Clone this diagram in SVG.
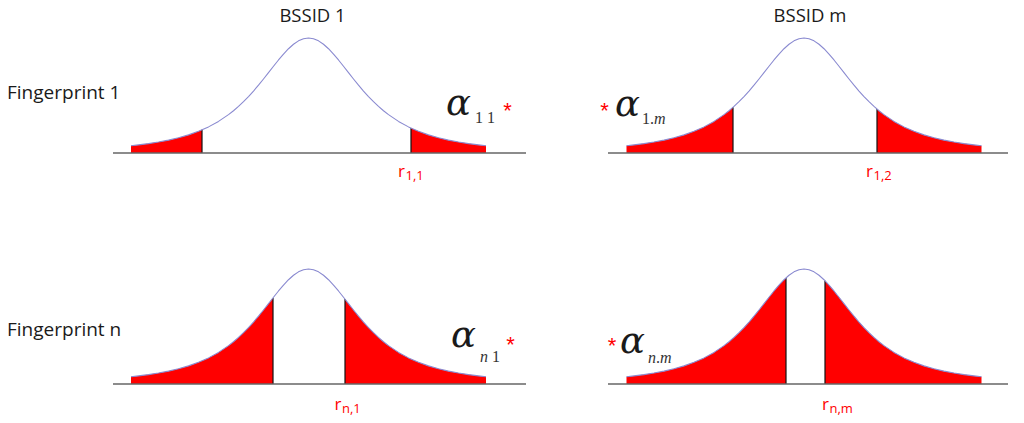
<svg xmlns="http://www.w3.org/2000/svg" xmlns:xlink="http://www.w3.org/1999/xlink" width="1024" height="423" viewBox="0 0 1024 423">
<style>
.curve{fill:none;stroke:#8a8ad0;stroke-width:1.1;stroke-linejoin:round}
.red{fill:#ff0000;stroke:none}
.edge{stroke:#111;stroke-width:1.2}
.axis{stroke:#666;stroke-width:1.6}
.hdr{font-family:"Open Sans","Liberation Sans",sans-serif;font-size:18.5px;fill:#1a1a1a}
.fp{font-family:"Open Sans","Liberation Sans",sans-serif;font-size:19px;fill:#1a1a1a}
.r{font-family:"Open Sans","Liberation Sans",sans-serif;font-size:17px;fill:#ff0000}
.rs{font-size:13px}
.al{font-family:"DejaVu Serif","Liberation Serif",serif;font-style:italic;font-size:37px;fill:#1a1a1a}
.sub{font-family:"Liberation Serif","Times New Roman",serif;font-size:16px;fill:#333}
.it{font-style:italic}
.ast{font-family:"Liberation Sans",Arial,sans-serif;font-size:22px;fill:#ff0000;text-anchor:middle}
</style>
<defs>
<path id="bell" d="M-177.5,-7.25 L-170,-8.08 L-160,-9.38 L-150,-10.95 L-140,-12.87 L-130,-15.22 L-120,-18.11 L-110,-21.69 L-100,-26.12 L-90,-31.6 L-80,-38.35 L-75,-42.27 L-70,-46.59 L-65,-51.31 L-60,-56.44 L-55,-61.96 L-50,-67.84 L-45,-74.01 L-40,-80.36 L-35,-86.77 L-30,-93.03 L-25,-98.95 L-20,-104.27 L-15,-108.75 L-10,-112.15 L-5,-114.28 L0,-115 L5,-114.28 L10,-112.15 L15,-108.75 L20,-104.27 L25,-98.95 L30,-93.03 L35,-86.77 L40,-80.36 L45,-74.01 L50,-67.84 L55,-61.96 L60,-56.44 L65,-51.31 L70,-46.59 L75,-42.27 L80,-38.35 L90,-31.6 L100,-26.12 L110,-21.69 L120,-18.11 L130,-15.22 L140,-12.87 L150,-10.95 L160,-9.38 L170,-8.08 L177.5,-7.25"/>
<path id="area" d="M-177.5,0 L-177.5,-7.25 L-170,-8.08 L-160,-9.38 L-150,-10.95 L-140,-12.87 L-130,-15.22 L-120,-18.11 L-110,-21.69 L-100,-26.12 L-90,-31.6 L-80,-38.35 L-75,-42.27 L-70,-46.59 L-65,-51.31 L-60,-56.44 L-55,-61.96 L-50,-67.84 L-45,-74.01 L-40,-80.36 L-35,-86.77 L-30,-93.03 L-25,-98.95 L-20,-104.27 L-15,-108.75 L-10,-112.15 L-5,-114.28 L0,-115 L5,-114.28 L10,-112.15 L15,-108.75 L20,-104.27 L25,-98.95 L30,-93.03 L35,-86.77 L40,-80.36 L45,-74.01 L50,-67.84 L55,-61.96 L60,-56.44 L65,-51.31 L70,-46.59 L75,-42.27 L80,-38.35 L90,-31.6 L100,-26.12 L110,-21.69 L120,-18.11 L130,-15.22 L140,-12.87 L150,-10.95 L160,-9.38 L170,-8.08 L177.5,-7.25 L177.5,0 Z"/>
<clipPath id="c11"><rect x="-179" y="-200" width="72.5" height="210"/><rect x="102.5" y="-200" width="76.5" height="210"/></clipPath>
<clipPath id="c1m"><rect x="-179" y="-200" width="108" height="210"/><rect x="73" y="-200" width="106" height="210"/></clipPath>
<clipPath id="cn1"><rect x="-179" y="-200" width="143.5" height="210"/><rect x="36.5" y="-200" width="142.5" height="210"/></clipPath>
<clipPath id="cnm"><rect x="-179" y="-200" width="161" height="210"/><rect x="21" y="-200" width="158" height="210"/></clipPath>
</defs>

<g id="headers">
<text class="hdr" x="312.5" y="22" text-anchor="middle">BSSID 1</text>
<text class="hdr" x="810" y="22" text-anchor="middle">BSSID m</text>
<text class="fp" x="7" y="99">Fingerprint 1</text>
<text class="fp" x="7" y="336">Fingerprint n</text>
</g>

<g id="panel-1-1">
<g transform="translate(308.5,153)">
<use xlink:href="#area" class="red" clip-path="url(#c11)"/>
<line class="edge" x1="-106.5" y1="0" x2="-106.5" y2="-23.2"/>
<line class="edge" x1="102.5" y1="0" x2="102.5" y2="-25"/>
<use xlink:href="#bell" class="curve"/>
<line class="axis" x1="-195.5" y1="0" x2="217.5" y2="0"/>
</g>
<text class="r" x="398" y="177">r<tspan class="rs" x="405.5" y="180">1,1</tspan></text>
<text class="al" x="446" y="115">α</text>
<text class="sub" x="475" y="123">1 1</text>
<text class="ast" x="507.5" y="117.5">*</text>
</g>

<g id="panel-1-m">
<g transform="translate(804,153)">
<use xlink:href="#area" class="red" clip-path="url(#c1m)"/>
<line class="edge" x1="-71" y1="0" x2="-71" y2="-45.8"/>
<line class="edge" x1="73" y1="0" x2="73" y2="-44.1"/>
<use xlink:href="#bell" class="curve"/>
<line class="axis" x1="-196" y1="0" x2="204" y2="0"/>
</g>
<text class="r" x="866" y="177">r<tspan class="rs" x="873.5" y="180">1,2</tspan></text>
<text class="ast" x="604.5" y="117.5">*</text>
<text class="al" x="615" y="116">α</text>
<text class="sub" x="642" y="124">1.<tspan class="it">m</tspan></text>
</g>

<g id="panel-n-1">
<g transform="translate(308.5,384)">
<use xlink:href="#area" class="red" clip-path="url(#cn1)"/>
<line class="edge" x1="-35.5" y1="0" x2="-35.5" y2="-86.1"/>
<line class="edge" x1="36.5" y1="0" x2="36.5" y2="-84.9"/>
<use xlink:href="#bell" class="curve"/>
<line class="axis" x1="-195.5" y1="0" x2="217.5" y2="0"/>
</g>
<text class="r" x="334.5" y="410">r<tspan class="rs" x="342" y="412.5">n,1</tspan></text>
<text class="al" x="451" y="347">α</text>
<text class="sub" x="480" y="362"><tspan class="it">n</tspan> 1</text>
<text class="ast" x="510.5" y="351.5">*</text>
</g>

<g id="panel-n-m">
<g transform="translate(804,384)">
<use xlink:href="#area" class="red" clip-path="url(#cnm)"/>
<line class="edge" x1="-18" y1="0" x2="-18" y2="-106.1"/>
<line class="edge" x1="21" y1="0" x2="21" y2="-103.2"/>
<use xlink:href="#bell" class="curve"/>
<line class="axis" x1="-196" y1="0" x2="204" y2="0"/>
</g>
<text class="r" x="822" y="410">r<tspan class="rs" x="829.5" y="412.5">n,m</tspan></text>
<text class="ast" x="612" y="352.5">*</text>
<text class="al" x="620" y="353">α</text>
<text class="sub" x="648" y="363"><tspan class="it">n</tspan>.<tspan class="it">m</tspan></text>
</g>
</svg>
